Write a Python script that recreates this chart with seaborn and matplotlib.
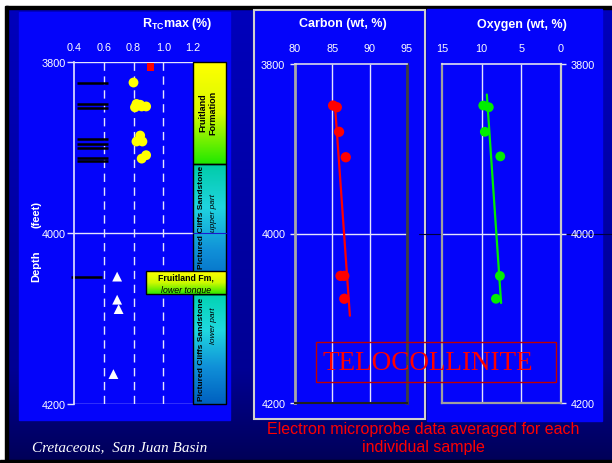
import numpy as np
import matplotlib
matplotlib.use("Agg")
import matplotlib.pyplot as plt
import matplotlib.colors as mcolors
from matplotlib.patches import Rectangle
import seaborn as sns

# ---- data ----
# vitrinite reflectance track (R_TC max, %)
refl_yellow = [0.80, 0.82, 0.81, 0.855, 0.885, 0.845, 0.845, 0.82, 0.86, 0.855, 0.885]
refl_yellow_depth = [3824, 3849, 3853, 3852, 3852, 3850, 3886, 3893, 3893, 3913, 3909]
refl_red = [0.915]
refl_red_depth = [3806]
refl_tri = [0.69, 0.69, 0.70, 0.665]
refl_tri_depth = [4051, 4078, 4089, 4165]
sample_depths = [3825, 3849, 3854, 3890, 3896, 3901, 3912, 3916]
sample_depths_low = [4051]

# electron microprobe, telocollinite
carbon = [85.1, 85.6, 85.9, 86.8, 86.1, 86.6, 86.6]
carbon_depth = [3849, 3851, 3880, 3910, 4050, 4050, 4077]
carbon_fit = [85.35, 87.35]
carbon_fit_depth = [3848, 4097]

oxygen = [9.8, 9.1, 9.6, 7.65, 7.7, 8.2]
oxygen_depth = [3849, 3851, 3880, 3909, 4050, 4077]
oxygen_fit = [9.35, 7.55]
oxygen_fit_depth = [3836, 4082]

depth_ticks = [3800, 4000, 4200]
refl_ticks = [0.4, 0.6, 0.8, 1.0, 1.2]
carbon_ticks = [80, 85, 90, 95]
oxygen_ticks = [15, 10, 5, 0]

# stratigraphic column
strat_tops = [3800, 3919, 4071]
strat_bases = [3919, 4071, 4200]
tongue_top, tongue_base = 4045, 4071

sns.set_theme(style="white")
plt.rcParams['font.family'] = ['Liberation Sans', 'DejaVu Sans']
plt.rcParams['mathtext.fontset'] = 'custom'
plt.rcParams['mathtext.bf'] = 'Liberation Sans:bold'
plt.rcParams['mathtext.rm'] = 'Liberation Sans'

W, H = 612, 464
BLUE = '#0404fa'
GRID = '#e4e4ff'


def px_rect(x0, y0, x1, y1):
    return [x0 / W, 1 - y1 / H, (x1 - x0) / W, (y1 - y0) / H]


def vgrad(stops, n=128):
    cols = np.array([mcolors.to_rgb(c) for c in stops])
    t = np.linspace(0, 1, n)
    pos = np.linspace(0, 1, len(stops))
    return np.stack([np.interp(t, pos, cols[:, i]) for i in range(3)], axis=1)[:, None, :]


fig = plt.figure(figsize=(6.12, 4.64), dpi=100)

# background slide
bg = fig.add_axes([0, 0, 1, 1], zorder=0)
bg.set_xlim(0, W)
bg.set_ylim(H, 0)
bg.axis('off')
rgb = np.zeros((200, 1, 3))
rgb[:, 0, 2] = np.interp(np.linspace(0, 1, 200), [0, 0.8, 1.0], [0.74, 0.58, 0.34])
bg.imshow(rgb, extent=(0, W, H, 0), aspect='auto')
bg.add_patch(Rectangle((0, 0), W, 7, color='white'))
bg.add_patch(Rectangle((0, 7), W, 3, color='black'))
bg.add_patch(Rectangle((0, 0), 5, H, color='white'))
bg.add_patch(Rectangle((5, 7), 2.5, H, color='black'))
bg.add_patch(Rectangle((0, H - 3), W, 3, color='black'))
bg.add_patch(Rectangle((19, 13), 211, 408, color=BLUE))
bg.add_patch(Rectangle((427, 10), 175, 412, color=BLUE))
bg.add_patch(Rectangle((254, 11), 171, 409, facecolor=BLUE, edgecolor='#cfcfcf', lw=1.5))

# ---- left track: reflectance ----
ax1 = fig.add_axes(px_rect(74, 63, 193, 405), zorder=2)
ax1.set_facecolor('none')
ax1.vlines([0.6, 0.8, 1.0], 3800, 4200, colors=GRID, linestyles=(0, (6, 4)), lw=1)
ax1.hlines(depth_ticks, 0.4, 1.2, colors=GRID, lw=1)
ax1.hlines(sample_depths, 0.42, 0.63, colors='black', lw=1.8)
ax1.hlines(sample_depths_low, 0.38, 0.59, colors='black', lw=1.8, clip_on=False)
sns.scatterplot(x=refl_yellow, y=refl_yellow_depth, ax=ax1, color='#ffff00', s=50,
                edgecolor='none', zorder=4)
sns.scatterplot(x=refl_red, y=refl_red_depth, ax=ax1, color='#ff0000', marker='s', s=28,
                edgecolor='none', zorder=4)
sns.scatterplot(x=refl_tri, y=refl_tri_depth, ax=ax1, color='white', marker='^', s=50,
                edgecolor='none', zorder=4)

col_x0, col_x1 = 1.2, 1.422
strat_colors = [['#ffff00', '#d8fa00', '#20e800'],
                ['#00cca8', '#20d4e0', '#1090d8', '#0060c0'],
                ['#00d4b0', '#20d8e0', '#1090d8', '#0060c0']]
for top, base, stops in zip(strat_tops, strat_bases, strat_colors):
    ax1.imshow(vgrad(stops), extent=(col_x0, col_x1, base, top), aspect='auto',
               clip_on=False, zorder=3)
    ax1.add_patch(Rectangle((col_x0, top), col_x1 - col_x0, base - top, fill=False,
                            edgecolor='black', lw=1, clip_on=False, zorder=3.5))
ax1.plot([col_x0, col_x1], [4000, 4000], color='#1a1ad0', lw=0.8, clip_on=False, zorder=3.6)
ax1.imshow(vgrad(['#ffff00', '#d0fa00', '#30e800']), extent=(0.884, col_x1, tongue_base, tongue_top),
           aspect='auto', clip_on=False, zorder=5)
ax1.add_patch(Rectangle((0.884, tongue_top), col_x1 - 0.884, tongue_base - tongue_top, fill=False,
                        edgecolor='black', lw=1, clip_on=False, zorder=5.5))
ax1.text(1.30, 3858, 'Fruitland\nFormation', rotation=90, ha='center', va='center',
         fontsize=6.5, fontweight='bold', color='black', clip_on=False, zorder=6, linespacing=1.2)
ax1.text(1.26, 3980, 'Pictured Cliffs Sandstone', rotation=90, ha='center', va='center',
         fontsize=6, fontweight='bold', color='black', clip_on=False, zorder=6)
ax1.text(1.335, 3975, 'upper part', rotation=90, ha='center', va='center',
         fontsize=6, style='italic', color='black', clip_on=False, zorder=6)
ax1.text(1.26, 4135, 'Pictured Cliffs Sandstone', rotation=90, ha='center', va='center',
         fontsize=6, fontweight='bold', color='black', clip_on=False, zorder=6)
ax1.text(1.335, 4107, 'lower part', rotation=90, ha='center', va='center',
         fontsize=6, style='italic', color='black', clip_on=False, zorder=6)
ax1.text(1.153, 4052, 'Fruitland Fm,', ha='center', va='center', fontsize=6.3,
         fontweight='bold', color='black', clip_on=False, zorder=6)
ax1.text(1.153, 4066, 'lower tongue', ha='center', va='center', fontsize=6.3,
         style='italic', color='black', clip_on=False, zorder=6)

ax1.set_xlim(0.4, 1.2)
ax1.set_ylim(4200, 3800)
ax1.set_xticks(refl_ticks)
ax1.set_xticklabels([f'{v:.1f}' for v in refl_ticks])
ax1.set_yticks(depth_ticks)
ax1.xaxis.tick_top()
ax1.tick_params(axis='x', length=0, pad=7, labelsize=7.8, labelcolor='white')
ax1.tick_params(axis='y', left=True, length=5, width=1, color=GRID, pad=1,
                labelsize=7.8, labelcolor='white')
for side in ['top', 'right', 'bottom']:
    ax1.spines[side].set_visible(False)
ax1.spines['left'].set_color(GRID)
ax1.spines['left'].set_linewidth(1.2)
ax1.set_xlabel('')
ax1.set_ylabel('')

# ---- middle track: carbon ----
ax2 = fig.add_axes(px_rect(295, 65, 407, 404), zorder=2)
ax2.set_facecolor('none')
ax2.vlines([85, 90], 3800, 4200, colors=GRID, lw=1)
ax2.hlines([4000], 80, 95, colors=GRID, lw=1)
sns.lineplot(x=carbon_fit, y=carbon_fit_depth, ax=ax2, sort=False, estimator=None,
             color='#ff0000', lw=1.6, zorder=3)
sns.scatterplot(x=carbon, y=carbon_depth, ax=ax2, color='#ff0000', s=55,
                edgecolor='none', zorder=4)
ax2.set_xlim(80, 95)
ax2.set_ylim(4200, 3800)
ax2.set_xticks(carbon_ticks)
ax2.set_yticks(depth_ticks)
ax2.xaxis.tick_top()
ax2.tick_params(axis='x', length=0, pad=8, labelsize=7.8, labelcolor='white')
ax2.tick_params(axis='y', left=True, length=3.5, width=1, color=GRID, pad=3.5,
                labelsize=7.8, labelcolor='white')
ax2.spines['top'].set_color('#d8d8e8')
ax2.spines['top'].set_linewidth(1.2)
ax2.spines['left'].set_color('#a8a8a8')
ax2.spines['left'].set_linewidth(2)
ax2.spines['right'].set_color('#404040')
ax2.spines['right'].set_linewidth(2)
ax2.spines['bottom'].set_color('#202020')
ax2.spines['bottom'].set_linewidth(1.5)
ax2.set_xlabel('')
ax2.set_ylabel('')

# ---- right track: oxygen ----
ax3 = fig.add_axes(px_rect(442, 65, 561, 404), zorder=2)
ax3.set_facecolor('none')
ax3.axhline(4000, xmin=-0.19, xmax=1.43, color='#000040', lw=0.8, clip_on=False, zorder=0.5)
ax3.vlines([10, 5], 3800, 4200, colors=GRID, lw=1)
ax3.hlines([4000], 0, 15, colors=GRID, lw=1)
sns.lineplot(x=oxygen_fit, y=oxygen_fit_depth, ax=ax3, sort=False, estimator=None,
             color='#00ee00', lw=1.6, zorder=3)
sns.scatterplot(x=oxygen, y=oxygen_depth, ax=ax3, color='#00ee00', s=50,
                edgecolor='none', zorder=4)
ax3.set_xlim(15, 0)
ax3.set_ylim(4200, 3800)
ax3.set_xticks(oxygen_ticks)
ax3.set_yticks(depth_ticks)
ax3.xaxis.tick_top()
ax3.yaxis.tick_right()
ax3.tick_params(axis='x', length=0, pad=8, labelsize=7.8, labelcolor='white')
ax3.tick_params(axis='y', right=True, length=3.5, width=1, color=GRID, pad=3.5,
                labelsize=7.8, labelcolor='white')
ax3.spines['top'].set_color('#e0e0f0')
ax3.spines['top'].set_linewidth(1.2)
ax3.spines['left'].set_color('#a0a0a0')
ax3.spines['left'].set_linewidth(1.6)
ax3.spines['right'].set_color('#c8c8c8')
ax3.spines['right'].set_linewidth(1.6)
ax3.spines['bottom'].set_color('#a0a0a0')
ax3.spines['bottom'].set_linewidth(1.6)
ax3.set_xlabel('')
ax3.set_ylabel('')

# ---- overlay texts ----
fg = fig.add_axes([0, 0, 1, 1], zorder=10)
fg.set_xlim(0, W)
fg.set_ylim(H, 0)
fg.axis('off')
fg.text(177, 24, r'$\mathbf{R_{TC}}$max (%)', ha='center', va='center', color='white',
        fontsize=9, fontweight='bold')
fg.text(343, 24, 'Carbon (wt, %)', ha='center', va='center', color='white',
        fontsize=9, fontweight='bold')
fg.text(522, 25, 'Oxygen (wt, %)', ha='center', va='center', color='white',
        fontsize=9, fontweight='bold')
fg.text(36, 215, '(feet)', rotation=90, ha='center', va='center', color='white',
        fontsize=8, fontweight='bold')
fg.text(36, 266, 'Depth', rotation=90, ha='center', va='center', color='white',
        fontsize=8, fontweight='bold')
fg.text(32, 448, 'Cretaceous,  San Juan Basin', ha='left', va='center', color='white',
        fontsize=11, style='italic', family=['Liberation Serif', 'DejaVu Serif'])
fg.add_patch(Rectangle((316, 343), 240, 40, fill=False, edgecolor='#c00000', lw=1))
fg.text(428, 364, 'TELOCOLLINITE', ha='center', va='center', color='#ff0000',
        fontsize=19.5, family=['Liberation Serif', 'DejaVu Serif'])
fg.text(423, 439, 'Electron microprobe data averaged for each\nindividual sample',
        ha='center', va='center', color='#ff0000', fontsize=11.5, linespacing=1.25)

fig.savefig('out.png', dpi=100)
